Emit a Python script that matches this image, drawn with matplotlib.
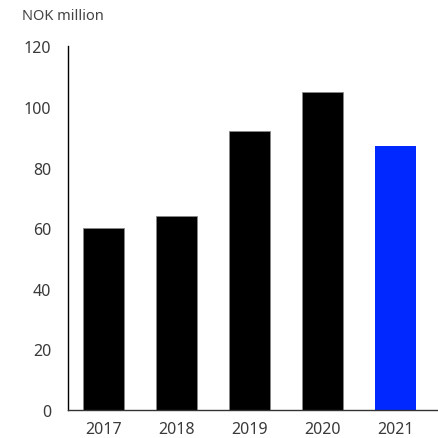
import matplotlib
matplotlib.use('Agg')
import matplotlib.pyplot as plt

# Annual figures, NOK million
years = ['2017', '2018', '2019', '2020', '2021']
values = [60, 64, 92, 105, 87]
colors = ['#000000', '#000000', '#000000', '#000000', '#0028ff']
edges = ['#888888', '#888888', '#888888', '#888888', 'none']

plt.rcParams['font.family'] = ['Noto Sans', 'DejaVu Sans']

fig = plt.figure(figsize=(4.38, 4.39), dpi=100)
ax = fig.add_axes([0.155, 0.064, 0.845, 0.828])

x = range(len(years))
ax.bar(x, values, width=0.56, color=colors, edgecolor=edges, linewidth=0.6)

ax.set_xlim(-0.49, 4.58)
ax.set_ylim(0, 120)
ax.set_yticks(range(0, 121, 20))
ax.set_xticks(list(x))
ax.set_xticklabels(years)

for side in ('top', 'right'):
    ax.spines[side].set_visible(False)
ax.spines['left'].set_linewidth(1.0)
ax.spines['bottom'].set_linewidth(1.0)
ax.spines['bottom'].set_color('#333333')

ax.tick_params(axis='y', length=0, pad=12, labelsize=11.5, labelcolor='#3a3a3a')
ax.tick_params(axis='x', length=0, pad=8, labelsize=11.5, labelcolor='#3a3a3a')

fig.text(22 / 438, 1 - 17 / 439, 'NOK million', fontsize=10.5, color='#444444',
         va='center', ha='left')

fig.savefig('out.png', dpi=100)
